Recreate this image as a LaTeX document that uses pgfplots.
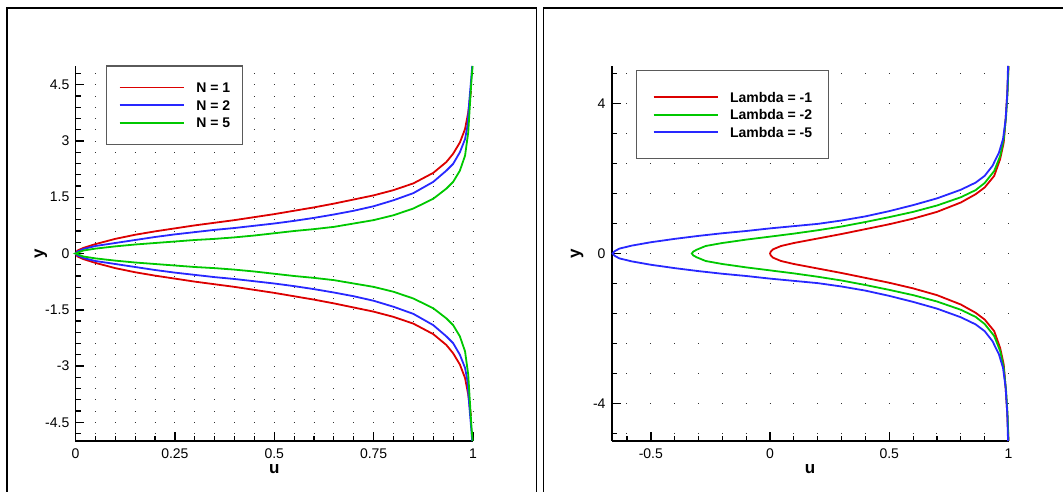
\documentclass[border=0pt]{standalone}
\usepackage{fontspec}
\setmainfont{Liberation Sans}
\usepackage{pgfplots}
\pgfplotsset{compat=1.18}
\definecolor{tred}{RGB}{220,0,0}
\definecolor{tblue}{RGB}{40,40,255}
\definecolor{tgreen}{RGB}{0,200,0}
\definecolor{lgbox}{RGB}{90,90,90}
\pgfplotsset{
  tec/.style={
    scale only axis, clip=false,
    axis x line=bottom, axis y line=left,
    every outer x axis line/.append style={-},
    every outer y axis line/.append style={-},
    axis line style={line width=1.8pt, black},
    tick align=inside,
    major tick length=9pt, minor tick length=5.5pt,
    major tick style={line width=1.5pt, black},
    minor tick style={line width=1.1pt, black},
    /pgf/number format/assume math mode=true,
    tick label style={font=\fontsize{14}{16}\selectfont, inner sep=0pt},
    xticklabel style={yshift=-7.5pt},
    yticklabel style={xshift=-6pt},
    label style={font=\bfseries\fontsize{17}{19}\selectfont},
    xlabel style={at={(axis description cs:0.5,-0.075)}, anchor=center},
    ylabel style={at={(axis description cs:-0.087,0.5)}, anchor=center},
    ymajorgrids, yminorgrids,
    legend image code/.code={\draw[##1, line width=1.8pt] (0pt,0pt) -- (64pt,0pt);},
  },
  lgd/.style={
    draw=lgbox, line width=1.2pt, fill=white,
    cells={anchor=west},
    nodes={inner sep=0pt, text height=11pt, text depth=1pt, font=\bfseries\fontsize{14}{16}\selectfont},
  },
}
\begin{document}
\begin{tikzpicture}[x=1pt,y=1pt]
\useasboundingbox (0pt,0pt) rectangle (1063pt,491pt);
\draw[line width=1.4pt] (7pt,-5pt) -- (7pt,483pt) -- (536.3pt,483pt) -- (536.3pt,-5pt);
\draw[line width=1.4pt] (543.3pt,-5pt) -- (543.3pt,483pt) -- (1075pt,483pt);

% ---------------- left panel ----------------
\begin{axis}[tec,
  at={(75.5pt,50pt)}, anchor=south west,
  width=397.5pt, height=375pt,
  xmin=0, xmax=1, ymin=-5, ymax=5,
  xtick={0,0.25,0.5,0.75,1}, xticklabels={0,0.25,0.5,0.75,1},
  minor xtick={0.05,0.1,0.15,0.2,0.3,0.35,0.4,0.45,0.55,0.6,0.65,0.7,0.8,0.85,0.9,0.95},
  ytick={-4.5,-3,-1.5,0,1.5,3,4.5}, yticklabels={-4.5,-3,-1.5,0,1.5,3,4.5},
  minor ytick={-4.8,-4.2,-3.9,-3.6,-3.3,-2.7,-2.4,-2.1,-1.8,-1.2,-0.9,-0.6,-0.3,0.3,0.6,0.9,1.2,1.8,2.1,2.4,2.7,3.3,3.6,3.9,4.2,4.8},
  major grid style={black!80, line width=1pt, dash pattern=on 1pt off 18.875pt, dash phase=0.5pt},
  minor grid style={black!80, line width=1pt, dash pattern=on 1pt off 18.875pt, dash phase=0.5pt},
  xlabel={u}, ylabel={y},
  legend style={lgd, at={(axis description cs:0,1)}, anchor=north west, xshift=30.5pt, yshift=0.5pt,
    inner xsep=12pt, inner ysep=15.3pt, row sep=5.7pt,
    /tikz/every odd column/.append style={column sep=12pt}},
]
\addplot[draw=tred, line width=1.8pt] coordinates {
(0.995,-4.33) (0.992,-4.1) (0.988,-3.76) (0.98,-3.32) (0.967,-2.96) (0.95,-2.66) (0.933,-2.44) (0.9,-2.15)
(0.85,-1.87) (0.8,-1.69) (0.75,-1.55) (0.7,-1.44) (0.65,-1.33) (0.6,-1.23) (0.55,-1.14) (0.5,-1.05)
(0.45,-0.97) (0.4,-0.89) (0.35,-0.82) (0.3,-0.75) (0.25,-0.67) (0.2,-0.59) (0.15,-0.5) (0.1,-0.39)
(0.05,-0.25) (0.02,-0.15) (0.005,-0.08) (0,0)
(0.005,0.08) (0.02,0.15) (0.05,0.25) (0.1,0.39) (0.15,0.5) (0.2,0.59) (0.25,0.67) (0.3,0.75)
(0.35,0.82) (0.4,0.89) (0.45,0.97) (0.5,1.05) (0.55,1.14) (0.6,1.23) (0.65,1.33) (0.7,1.44)
(0.75,1.55) (0.8,1.69) (0.85,1.87) (0.9,2.15) (0.933,2.44) (0.95,2.66) (0.967,2.96) (0.98,3.32)
(0.988,3.76) (0.992,4.1) (0.995,4.33)
};
\addlegendentry{N = 1}
\addplot[draw=tblue, line width=1.8pt] coordinates {
(0.998,-5) (0.995,-4.6) (0.991,-4.1) (0.986,-3.4) (0.98,-3.05) (0.967,-2.7) (0.95,-2.39) (0.933,-2.21)
(0.9,-1.91) (0.85,-1.61) (0.8,-1.42) (0.75,-1.26) (0.7,-1.14) (0.65,-1.04) (0.6,-0.95) (0.55,-0.87)
(0.5,-0.8) (0.45,-0.74) (0.4,-0.68) (0.35,-0.63) (0.3,-0.57) (0.25,-0.51) (0.2,-0.44) (0.15,-0.36)
(0.1,-0.28) (0.05,-0.2) (0.02,-0.12) (0.005,-0.05) (0,0)
(0.005,0.05) (0.02,0.12) (0.05,0.2) (0.1,0.28) (0.15,0.36) (0.2,0.44) (0.25,0.51) (0.3,0.57)
(0.35,0.63) (0.4,0.68) (0.45,0.74) (0.5,0.8) (0.55,0.87) (0.6,0.95) (0.65,1.04) (0.7,1.14)
(0.75,1.26) (0.8,1.42) (0.85,1.61) (0.9,1.91) (0.933,2.21) (0.95,2.39) (0.967,2.7) (0.98,3.05)
(0.986,3.4) (0.991,4.1) (0.995,4.6) (0.998,5)
};
\addlegendentry{N = 2}
\addplot[draw=tgreen, line width=1.8pt] coordinates {
(0.999,-5) (0.996,-4.6) (0.993,-4.1) (0.988,-3.23) (0.98,-2.61) (0.967,-2.21) (0.95,-1.91) (0.933,-1.73)
(0.9,-1.46) (0.85,-1.2) (0.8,-1.02) (0.75,-0.89) (0.7,-0.8) (0.65,-0.71) (0.6,-0.65) (0.55,-0.6)
(0.5,-0.54) (0.45,-0.48) (0.4,-0.43) (0.35,-0.39) (0.3,-0.36) (0.25,-0.32) (0.2,-0.28) (0.15,-0.24)
(0.1,-0.19) (0.05,-0.13) (0.02,-0.08) (0,0)
(0.02,0.08) (0.05,0.13) (0.1,0.19) (0.15,0.24) (0.2,0.28) (0.25,0.32) (0.3,0.36) (0.35,0.39)
(0.4,0.43) (0.45,0.48) (0.5,0.54) (0.55,0.6) (0.6,0.65) (0.65,0.71) (0.7,0.8) (0.75,0.89)
(0.8,1.02) (0.85,1.2) (0.9,1.46) (0.933,1.73) (0.95,1.91) (0.967,2.21) (0.98,2.61) (0.988,3.23)
(0.993,4.1) (0.996,4.6) (0.999,5)
};
\addlegendentry{N = 5}
\end{axis}

% ---------------- right panel ----------------
\begin{axis}[tec,
  at={(611.7pt,50pt)}, anchor=south west,
  width=396.8pt, height=375pt,
  xmin=-0.664, xmax=1, ymin=-5, ymax=5,
  xtick={-0.5,0,0.5,1}, xticklabels={-0.5,0,0.5,1},
  minor xtick={-0.6,-0.4,-0.3,-0.2,-0.1,0.1,0.2,0.3,0.4,0.6,0.7,0.8,0.9},
  ytick={-4,0,4}, yticklabels={-4,0,4},
  minor ytick={-4.8,-3.2,-2.4,-1.6,-0.8,0.8,1.6,2.4,3.2,4.8},
  major grid style={black!80, line width=1pt, dash pattern=on 1pt off 22.846pt, dash phase=9.086pt},
  minor grid style={black!80, line width=1pt, dash pattern=on 1pt off 22.846pt, dash phase=9.086pt},
  xlabel={u}, ylabel={y},
  legend style={lgd, at={(axis description cs:0,1)}, anchor=north west, xshift=24.3pt, yshift=-4.3pt,
    inner xsep=16pt, inner ysep=20.2pt, row sep=5.5pt,
    /tikz/every odd column/.append style={column sep=11.7pt}},
]
\addplot[draw=tred, line width=1.8pt] coordinates {
(1,-5) (0.995,-4.29) (0.988,-3.58) (0.98,-2.96) (0.965,-2.52) (0.94,-2.07) (0.9,-1.76) (0.862,-1.58)
(0.8,-1.36) (0.7,-1.11) (0.6,-0.93) (0.5,-0.78) (0.4,-0.65) (0.3,-0.52) (0.2,-0.4) (0.1,-0.28)
(0.046,-0.2) (0.012,-0.11) (0.003,-0.05) (0,0)
(0.003,0.05) (0.012,0.11) (0.046,0.2) (0.1,0.28) (0.2,0.4) (0.3,0.52) (0.4,0.65) (0.5,0.78)
(0.6,0.93) (0.7,1.11) (0.8,1.36) (0.862,1.58) (0.9,1.76) (0.94,2.07) (0.965,2.52) (0.98,2.96)
(0.988,3.58) (0.995,4.29) (1,5)
};
\addlegendentry{Lambda = -1}
\addplot[draw=tgreen, line width=1.8pt] coordinates {
(1,-5) (0.996,-4.29) (0.99,-3.67) (0.98,-3.05) (0.965,-2.6) (0.94,-2.2) (0.9,-1.88) (0.862,-1.69)
(0.8,-1.5) (0.7,-1.28) (0.6,-1.11) (0.5,-0.97) (0.4,-0.84) (0.3,-0.72) (0.2,-0.62) (0.1,-0.53)
(0,-0.45) (-0.1,-0.37) (-0.2,-0.28) (-0.27,-0.2) (-0.308,-0.1) (-0.322,-0.05) (-0.328,0)
(-0.322,0.05) (-0.308,0.1) (-0.27,0.2) (-0.2,0.28) (-0.1,0.37) (0,0.45) (0.1,0.53) (0.2,0.62)
(0.3,0.72) (0.4,0.84) (0.5,0.97) (0.6,1.11) (0.7,1.28) (0.8,1.5) (0.862,1.69) (0.9,1.88)
(0.94,2.2) (0.965,2.6) (0.98,3.05) (0.99,3.67) (0.996,4.29) (1,5)
};
\addlegendentry{Lambda = -2}
\addplot[draw=tblue, line width=1.8pt] coordinates {
(0.998,-5) (0.995,-4.29) (0.988,-3.58) (0.977,-3.05) (0.96,-2.69) (0.933,-2.34) (0.9,-2.07) (0.862,-1.89)
(0.8,-1.7) (0.7,-1.47) (0.6,-1.29) (0.5,-1.13) (0.4,-0.99) (0.3,-0.88) (0.2,-0.79) (0.1,-0.73)
(0,-0.67) (-0.1,-0.6) (-0.2,-0.54) (-0.3,-0.47) (-0.4,-0.39) (-0.5,-0.3) (-0.58,-0.21) (-0.632,-0.13)
(-0.652,-0.06) (-0.66,0)
(-0.652,0.06) (-0.632,0.13) (-0.58,0.21) (-0.5,0.3) (-0.4,0.39) (-0.3,0.47) (-0.2,0.54) (-0.1,0.6)
(0,0.67) (0.1,0.73) (0.2,0.79) (0.3,0.88) (0.4,0.99) (0.5,1.13) (0.6,1.29) (0.7,1.47)
(0.8,1.7) (0.862,1.89) (0.9,2.07) (0.933,2.34) (0.96,2.69) (0.977,3.05) (0.988,3.58) (0.995,4.29)
(0.998,5)
};
\addlegendentry{Lambda = -5}
\end{axis}
\end{tikzpicture}
\end{document}
